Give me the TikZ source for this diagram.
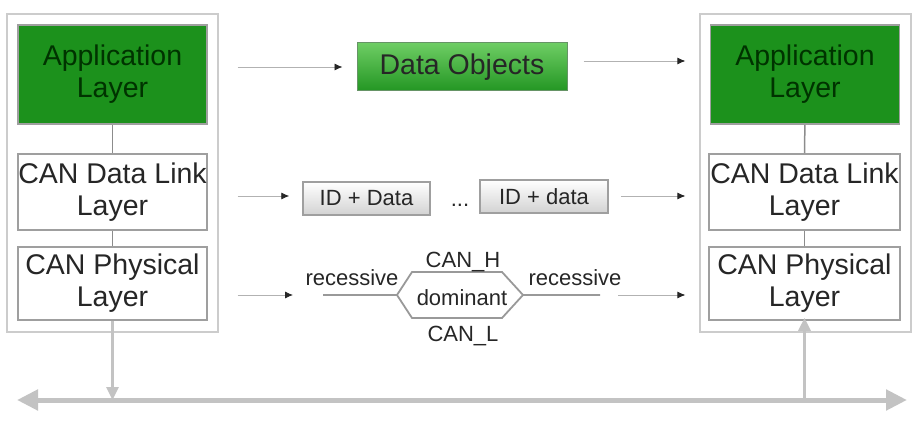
\documentclass[tikz,border=0pt]{standalone}
\usepackage{fontspec}
\setmainfont{Liberation Sans}
\usepackage{tikz}
\usetikzlibrary{arrows.meta, positioning}
\usepackage{xcolor}
\definecolor{appgreen}{RGB}{28,145,28}
\definecolor{objtop}{RGB}{110,205,100}
\definecolor{objbot}{RGB}{35,150,35}
\definecolor{busgray}{RGB}{195,195,195}
\newcommand{\biglabel}{\fontsize{28.5}{32}\selectfont}
\newcommand{\smalllabel}{\fontsize{22}{24}\selectfont}

\tikzset{
  stackbox/.style={draw=gray!40, line width=1.2pt, minimum width=211pt, minimum height=318pt, inner sep=0pt},
  layerbox/.style={draw=gray!75, line width=1.6pt, fill=white, minimum width=189pt, minimum height=76pt,
    inner sep=0pt, align=center, font=\biglabel, text=black!85},
  appbox/.style={layerbox, fill=appgreen, minimum height=99pt, text=black!80!green},
  objbox/.style={draw=green!30!black!60, line width=1pt, top color=objtop, bottom color=objbot,
    minimum width=210pt, minimum height=48pt, inner sep=0pt, font=\biglabel, text=black!85},
  framebox/.style={draw=gray!75, line width=1.5pt, top color=white, bottom color=gray!35,
    minimum width=127pt, minimum height=33pt, inner sep=0pt, font=\smalllabel, text=black!85},
  sig/.style={font=\smalllabel, text=black!85, inner sep=0pt},
  link/.style={draw=gray!90, line width=1.5pt},
  wave/.style={draw=gray!80, line width=1.8pt, line join=miter},
  flow/.style={draw=gray!60, line width=0.8pt, -{Latex[length=8pt,width=7pt,color=black!85]}},
  bus/.style={draw=busgray, line width=5pt, {Triangle[length=21pt,width=20pt]}-{Triangle[length=21pt,width=20pt]}},
  tap/.style={draw=busgray, line width=3pt, -{Triangle[length=13pt,width=12pt]}},
}

\begin{document}
\begin{tikzpicture}[x=1pt, y=-1pt]
  \useasboundingbox (0,0) rectangle (918,422);

  % the two stacks
  \node[stackbox] (lout) at (112.5,173) {};
  \node[stackbox] (rout) at (805.5,173) {};

  \node[appbox]   (lapp)  at (112.5,74.5) {Application\\Layer};
  \node[layerbox] (llink) at (112.5,192)  {CAN Data Link\\Layer};
  \node[layerbox, minimum height=73pt] (lphys) at (112.5,283.5) {CAN Physical\\Layer};

  \node[appbox]   (rapp)  at (805,74.5)   {Application\\Layer};
  \node[layerbox, minimum width=191pt] (rlink) at (804.5,192) {CAN Data Link\\Layer};
  \node[layerbox, minimum width=191pt, minimum height=73pt] (rphys) at (804.5,283.5) {CAN Physical\\Layer};

  \draw[link] (lapp) -- (llink);
  \draw[link] (llink) -- (lphys);
  \draw[link] (rapp) -- (rlink);
  \draw[link] (rlink) -- (rphys);

  % what goes over the wire
  \node[objbox] (dobj) at (462,67) {Data Objects};
  \node[framebox] (frame1) at (366.5,198.5) {ID + Data};
  \node[framebox, minimum width=128pt] (frame2) at (544,196.5) {ID + data};
  \node[sig] (dots) at (460,205) {...};

  \draw[flow, shorten <=19pt, shorten >=14pt] (lout.east |- dobj.west) -- (dobj.west);
  \draw[flow, shorten <=16pt, shorten >=14pt] ([yshift=6pt]dobj.east) -- ([yshift=6pt]dobj.east -| rout.west);
  \draw[flow, shorten <=19pt, shorten >=13pt] (lout.east |- 0,196) -- (frame1.west |- 0,196);
  \draw[flow, shorten <=12pt, shorten >=14pt] (frame2.east |- 0,196) -- (rout.west |- 0,196);

  % bit levels
  \coordinate (sigl) at (323,295);
  \coordinate (hexl) at (397,295);
  \coordinate (hexr) at (523,295);
  \coordinate (sigr) at (600,295);
  \draw[wave] (sigl) -- (hexl) -- (412,272) -- (502,272) -- (hexr) -- (sigr);
  \draw[wave] (hexl) -- (412,318) -- (502,318) -- (hexr);
  \node[sig] (recl) at (352,278) {recessive};
  \node[sig] (recr) at (575,278) {recessive};
  \node[sig] (dom)  at (462,298) {dominant};
  \node[sig] (canh) at (463,262) {CAN\_H};
  \node[sig] (canl) at (463,336) {CAN\_L};

  \draw[flow, shorten <=19pt, shorten >=30pt] (lout.east |- sigl) -- (sigl);
  \draw[flow, shorten <=18pt, shorten >=14pt] (sigr) -- (rout.west |- sigr);

  % the bus
  \coordinate (busl) at (17,400);
  \coordinate (busr) at (907,400);
  \draw[bus] (busl) -- (busr);
  \draw[tap] (lphys.south) -- (lphys.south |- busl);
  \draw[tap, shorten <=2pt, shorten >=-3pt] (rphys.south |- busr) -- (rphys.south);
\end{tikzpicture}
\end{document}
